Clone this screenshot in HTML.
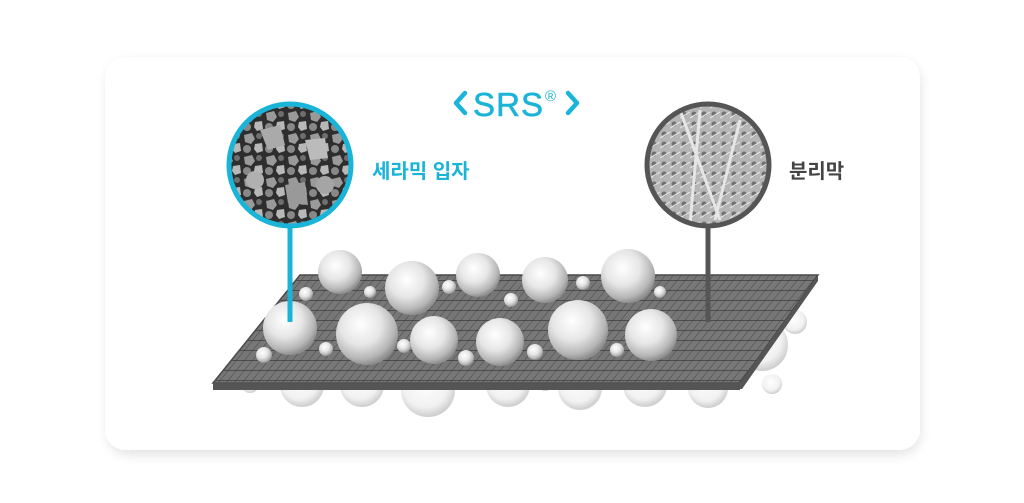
<!DOCTYPE html>
<html><head><meta charset="utf-8"><style>
html,body{margin:0;padding:0;background:#fff;width:1024px;height:503px;overflow:hidden}
</style></head><body>
<svg width="1024" height="503" viewBox="0 0 1024 503" xmlns="http://www.w3.org/2000/svg">
<defs>
<filter id="sh" x="-10%" y="-10%" width="120%" height="130%"><feGaussianBlur stdDeviation="6"/></filter>
<radialGradient id="ball" cx="40%" cy="35%" r="65%">
<stop offset="0" stop-color="#ffffff"/><stop offset="0.5" stop-color="#e6e6e6"/><stop offset="0.85" stop-color="#b5b5b5"/><stop offset="1" stop-color="#8f8f8f"/></radialGradient>
<radialGradient id="ghost" cx="45%" cy="40%" r="60%">
<stop offset="0" stop-color="#ffffff"/><stop offset="0.7" stop-color="#f0f0f0"/><stop offset="1" stop-color="#c8c8c8"/></radialGradient>
<pattern id="grid" width="8" height="10" patternUnits="userSpaceOnUse" patternTransform="skewX(-39)">
<rect width="8" height="10" fill="#777"/><line x1="0" y1="0" x2="8" y2="0" stroke="#3a3a3a" stroke-width="1.4"/><line x1="0" y1="0" x2="0" y2="10" stroke="#3a3a3a" stroke-width="1"/></pattern>
<pattern id="sem1" width="22" height="22" patternUnits="userSpaceOnUse">
<rect width="22" height="22" fill="#2e2e2e"/><path d="M2 3 L10 1 L13 7 L9 12 L3 10Z" fill="#9a9a9a"/><path d="M13 12 L20 11 L21 19 L15 21 L12 17Z" fill="#b8b8b8"/><circle cx="17" cy="4" r="3" fill="#6e6e6e"/><circle cx="5" cy="17" r="4" fill="#888"/></pattern>
<pattern id="sem2" width="10" height="10" patternUnits="userSpaceOnUse">
<rect width="10" height="10" fill="#b5b5b5"/><circle cx="4" cy="4" r="2.5" fill="#707070"/><path d="M0 8 L10 2" stroke="#e0e0e0" stroke-width="1.2"/></pattern>
<clipPath id="c1"><circle cx="290" cy="165" r="60"/></clipPath>
<clipPath id="c2"><circle cx="708" cy="165" r="60"/></clipPath>
</defs>
<rect x="108" y="62" width="812" height="392" rx="20" fill="#000" opacity="0.12" filter="url(#sh)"/>
<rect x="105" y="57" width="815" height="393" rx="20" fill="#fff"/>
<polyline points="465,93 456,103 465,113" fill="none" stroke="#1ab4d8" stroke-width="4.5" stroke-linecap="round" stroke-linejoin="round"/>
<polyline points="568,93 577,103 568,113" fill="none" stroke="#1ab4d8" stroke-width="4.5" stroke-linecap="round" stroke-linejoin="round"/>
<text x="473" y="116" font-family="Liberation Sans, sans-serif" font-size="33" fill="#1ab4d8" stroke="#1ab4d8" stroke-width="0.6" textLength="70">SRS</text>
<text x="545" y="101" font-family="Liberation Sans, sans-serif" font-size="15" fill="#1ab4d8">®</text>
<g clip-path="url(#c1)"><rect x="228" y="103" width="124" height="124" fill="url(#sem1)"/>
<path d="M260 130 L280 125 L285 145 L268 150Z" fill="#aaa"/><path d="M305 140 L325 138 L328 158 L310 160Z" fill="#bbb"/><path d="M285 185 L305 182 L308 205 L288 203Z" fill="#999"/><circle cx="255" cy="180" r="9" fill="#b0b0b0"/><circle cx="325" cy="185" r="9" fill="#a5a5a5"/></g>
<circle cx="290" cy="165" r="61" fill="none" stroke="#1ab4d8" stroke-width="5"/>
<g clip-path="url(#c2)"><rect x="646" y="103" width="124" height="124" fill="url(#sem2)"/>
<path d="M680 110 L720 220 M700 110 L690 225 M740 120 L715 220" stroke="#e6e6e6" stroke-width="3" fill="none"/></g>
<circle cx="708" cy="165" r="61" fill="none" stroke="#555" stroke-width="5"/>
<text x="372" y="178" font-family="Liberation Sans, 'Noto Sans CJK KR', sans-serif" font-size="20" font-weight="bold" fill="#1ab4d8">세라믹 입자</text>
<text x="789" y="178" font-family="Liberation Sans, 'Noto Sans CJK KR', sans-serif" font-size="20" font-weight="bold" fill="#444">분리막</text>
<g fill="url(#ghost)" opacity="0.9">
<circle cx="250" cy="384" r="9"/><circle cx="302" cy="385" r="22"/><circle cx="362" cy="385" r="22"/><circle cx="428" cy="390" r="27"/><circle cx="508" cy="385" r="22"/><circle cx="580" cy="388" r="22"/><circle cx="645" cy="385" r="22"/><circle cx="708" cy="388" r="20"/><circle cx="762" cy="345" r="26"/><circle cx="772" cy="384" r="10"/><circle cx="795" cy="322" r="12"/><circle cx="470" cy="382" r="8"/><circle cx="545" cy="384" r="7"/><circle cx="680" cy="382" r="7"/></g>
<polygon points="213,383 740,383 740,390 213,390" fill="#555"/>
<polygon points="300,275 818,275 740,383 213,383" fill="url(#grid)" stroke="#4a4a4a" stroke-width="1.5"/>
<polygon points="213,383 740,383 818,275 818,281 742,389 213,389" fill="#555"/>
<line x1="708" y1="227" x2="708" y2="322" stroke="#555" stroke-width="5"/>
<g fill="url(#ball)">
<circle cx="340" cy="272" r="22"/><circle cx="412" cy="288" r="27"/><circle cx="478" cy="275" r="22"/><circle cx="545" cy="280" r="23"/><circle cx="628" cy="276" r="27"/>
<circle cx="306" cy="294" r="7"/><circle cx="370" cy="292" r="6"/><circle cx="449" cy="287" r="7"/><circle cx="511" cy="300" r="7"/><circle cx="583" cy="283" r="7"/><circle cx="660" cy="292" r="6"/>
<circle cx="290" cy="328" r="27"/><circle cx="367" cy="334" r="31"/><circle cx="434" cy="340" r="24"/><circle cx="500" cy="342" r="24"/><circle cx="578" cy="330" r="30"/><circle cx="651" cy="335" r="26"/>
<circle cx="264" cy="355" r="8"/><circle cx="326" cy="349" r="7"/><circle cx="404" cy="346" r="7"/><circle cx="466" cy="358" r="8"/><circle cx="535" cy="352" r="8"/><circle cx="617" cy="350" r="7"/>
</g>
<line x1="290" y1="227" x2="290" y2="322" stroke="#1ab4d8" stroke-width="5"/>
</svg>
</body></html>
